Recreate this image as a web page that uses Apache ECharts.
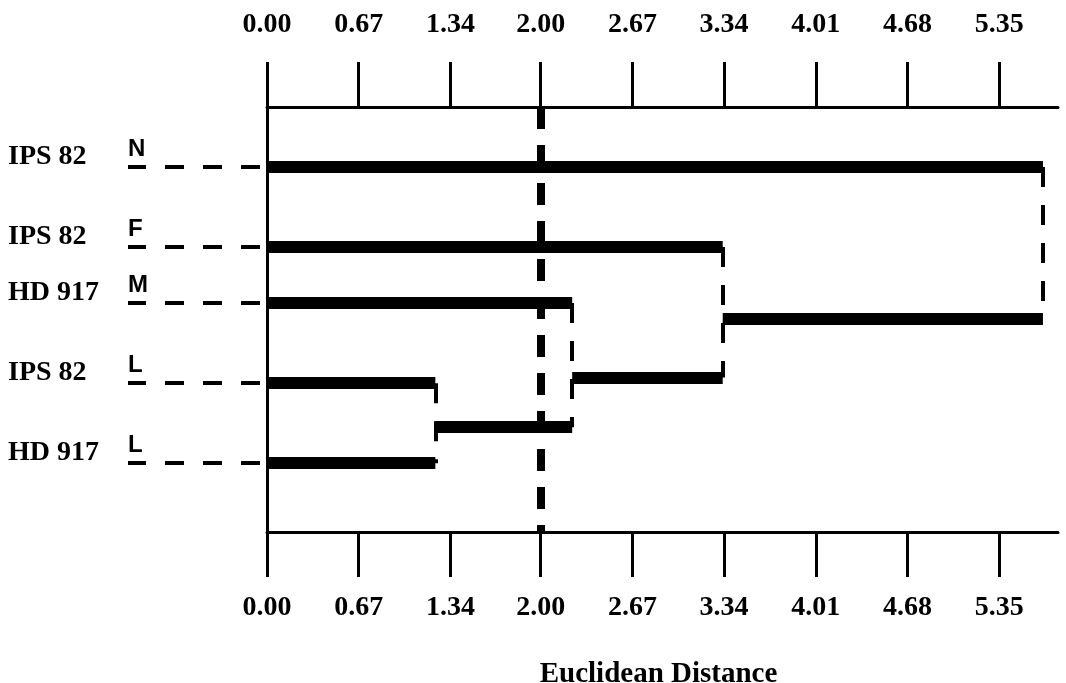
<!DOCTYPE html>
<html><head><meta charset="utf-8">
<script src="https://cdn.jsdelivr.net/npm/echarts@6/dist/echarts.min.js"></script>
<style>html,body{margin:0;padding:0;background:#fff}#c{width:1066px;height:683px}</style>
</head><body><div id="c"></div>
<script>
// ---- data ----
const leafNames = ['IPS 82', 'IPS 82', 'HD 917', 'IPS 82', 'HD 917'];
const leafCodes = ['N', 'F', 'M', 'L', 'L'];
const leafRows = [1, 2, 2.7, 3.7, 4.7];
// merges: node index of the two children, joining distance, row of the new node
const mergeLeft = [3, 2, 1, 0];
const mergeRight = [4, 5, 6, 7];
const mergeDist = [1.23, 2.23, 3.33, 5.67];
const mergeRows = [4.25, 3.63, 2.89, 1.9];
const cutDistance = 2.00;
const tickValues = [0, 0.67, 1.34, 2.00, 2.67, 3.34, 4.01, 4.68, 5.35];
const tickLabels = ['0.00', '0.67', '1.34', '2.00', '2.67', '3.34', '4.01', '4.68', '5.35'];
const axisTitle = 'Euclidean Distance';
const xMax = 5.78;
const yMin = 0.25, yMax = 5.56;

// ---- build tree segments ----
const nodeRow = leafRows.slice();
const nodeStart = leafRows.map(() => 0);
const nodeEnd = [];
mergeDist.forEach((d, i) => {
  nodeEnd[mergeLeft[i]] = d;
  nodeEnd[mergeRight[i]] = d;
  nodeRow.push(mergeRows[i]);
  nodeStart.push(d);
});
const hBars = [];
for (let n = 0; n < nodeRow.length; n++) {
  if (nodeEnd[n] !== undefined) hBars.push({ coords: [[nodeStart[n], nodeRow[n]], [nodeEnd[n], nodeRow[n]]] });
}
const vLinks = mergeDist.map((d, i) => ({ coords: [[d, nodeRow[mergeLeft[i]]], [d, nodeRow[mergeRight[i]]]] }));
const cutLine = [{ coords: [[cutDistance, yMin], [cutDistance, yMax]] }];

function nearestIdx(arr, v) {
  let b = 0;
  for (let i = 1; i < arr.length; i++) if (Math.abs(arr[i] - v) < Math.abs(arr[b] - v)) b = i;
  return b;
}

const serif = 'Liberation Serif';
const sans = 'Liberation Sans';

function xAxisCfg(pos, margin) {
  return {
    type: 'value', position: pos, min: 0, max: xMax,
    splitLine: { show: false },
    axisLine: { show: true, lineStyle: { color: '#000', width: 3 } },
    axisTick: { show: true, customValues: tickValues, length: 45, lineStyle: { color: '#000', width: 3 } },
    axisLabel: {
      customValues: tickValues, margin: margin,
      formatter: v => tickLabels[nearestIdx(tickValues, v)],
      fontFamily: serif, fontWeight: 'bold', fontSize: 28, color: '#000'
    }
  };
}

const chart = echarts.init(document.getElementById('c'), null, { renderer: 'canvas' });
const bottomAxis = xAxisCfg('bottom', 62);
bottomAxis.name = axisTitle;
bottomAxis.nameLocation = 'middle';
bottomAxis.nameGap = 128;
bottomAxis.nameTextStyle = { fontFamily: serif, fontWeight: 'bold', fontSize: 29, color: '#000', padding: [0, 8, 0, 0] };

chart.setOption({
  animation: false,
  backgroundColor: '#fff',
  grid: { left: 267, right: 8, top: 107, bottom: 151, containLabel: false, outerBoundsMode: 'none' },
  xAxis: [bottomAxis, xAxisCfg('top', 68)],
  yAxis: {
    type: 'value', inverse: true, min: yMin, max: yMax,
    splitLine: { show: false },
    axisLine: { show: true, lineStyle: { color: '#000', width: 3 } },
    axisTick: {
      show: true, customValues: leafRows, length: 139,
      lineStyle: { color: '#000', width: 4, type: [19, 19], dashOffset: 31 }
    },
    axisLabel: {
      customValues: leafRows, margin: 115, padding: [20, 0, 0, 0],
      formatter: v => { const i = nearestIdx(leafRows, v); return '{n|' + leafNames[i] + '}{c|' + leafCodes[i] + '}'; },
      rich: {
        n: { fontFamily: serif, fontWeight: 'bold', fontSize: 28, color: '#000', width: 120, align: 'left', lineHeight: 28, padding: [0, 0, 20, 0], verticalAlign: 'bottom' },
        c: { fontFamily: sans, fontWeight: 'bold', fontSize: 24, color: '#000', width: 24, align: 'left', lineHeight: 24, padding: [0, 0, 30, 0], verticalAlign: 'bottom' }
      }
    }
  },
  series: [
    {
      type: 'lines', coordinateSystem: 'cartesian2d', silent: true, z: 3,
      lineStyle: { color: '#000', width: 12, opacity: 1, type: 'solid' },
      data: hBars
    },
    {
      type: 'lines', coordinateSystem: 'cartesian2d', silent: true, z: 2,
      lineStyle: { color: '#000', width: 4, opacity: 1, type: [20, 18] },
      data: vLinks
    },
    {
      type: 'lines', coordinateSystem: 'cartesian2d', silent: true, z: 4,
      lineStyle: { color: '#000', width: 8, opacity: 1, type: [22, 16] },
      data: cutLine
    }
  ]
});
</script>
</body></html>
